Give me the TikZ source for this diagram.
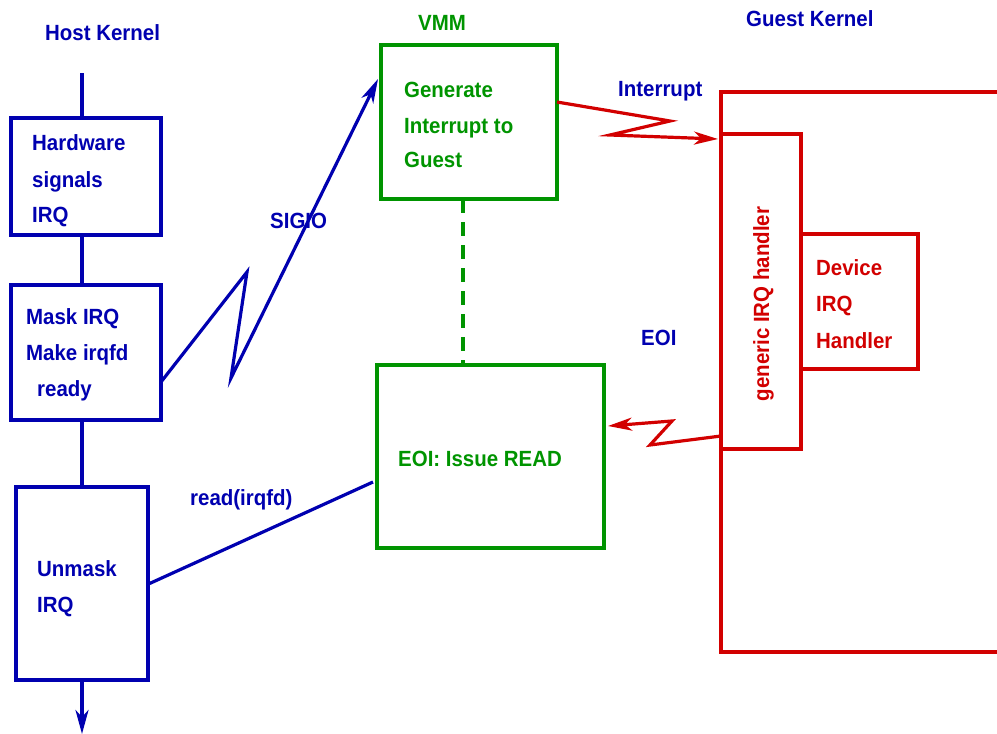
\documentclass[tikz,border=0pt]{standalone}
\usepackage{fontspec}
\setmainfont{Liberation Sans}
\usetikzlibrary{arrows.meta,calc}
\definecolor{hostblue}{RGB}{0,0,176}
\definecolor{vmmgreen}{RGB}{0,148,0}
\definecolor{guestred}{RGB}{210,0,0}
\tikzset{
  box/.style={draw, rectangle, line width=3.2pt, inner sep=0pt},
  wire/.style={line width=3.2pt, line join=miter},
  lbl/.style={anchor=base west, inner sep=0pt, font=\addfontfeatures{FakeStretch=0.93}\fontsize{22}{26}\selectfont\bfseries},
  tip/.style={-{Stealth[length=24pt,width=13pt,inset=7pt]}},
}
\begin{document}
\begin{tikzpicture}[x=1pt,y=-1pt]
\useasboundingbox (0,0) rectangle (997,734);

% ---- host kernel column ----
\begin{scope}[hostblue]
  \node[lbl] (hostk) at (45,40) {Host Kernel};
  \node[box, minimum width=150pt, minimum height=117pt] (hw) at (86,176.5) {};
  \node[box, minimum width=150pt, minimum height=135pt] (mask) at (86,352.5) {};
  \node[box, minimum width=132pt, minimum height=193pt] (unmask) at (82,583.5) {};
  \coordinate (hosttop) at (82,73);
  \coordinate (hostbot) at (82,734);

  \node[lbl] (hw1) at (32,150) {Hardware};
  \node[lbl] (hw2) at (32,187) {signals};
  \node[lbl] (hw3) at (32,222) {IRQ};
  \node[lbl] (mk1) at (26,324) {Mask IRQ};
  \node[lbl] (mk2) at (26,360) {Make irqfd};
  \node[lbl] (mk3) at (37,396) {ready};
  \node[lbl] (um1) at (37,576) {Unmask};
  \node[lbl] (um2) at (37,612) {IRQ};
  \node[lbl] (sigio) at (270,228) {SIGIO};
  \node[lbl] (rd) at (190,505) {read(irqfd)};

  \draw[wire] (hosttop) -- (hosttop |- hw.north);
  \draw[wire] (hosttop |- hw.south) -- (hosttop |- mask.north);
  \draw[wire] (hosttop |- mask.south) -- (hosttop |- unmask.north);
  \draw[wire, tip] (hosttop |- unmask.south) -- (hostbot);
\end{scope}

% ---- VMM column ----
\begin{scope}[vmmgreen]
  \node[lbl] (vmm) at (418,30) {VMM};
  \node[box, minimum width=176pt, minimum height=154pt] (gen) at (469,122) {};
  \node[box, minimum width=227pt, minimum height=183pt] (eoi) at (490.5,456.5) {};
  \node[lbl] (g1) at (404,97) {Generate};
  \node[lbl] (g2) at (404,133) {Interrupt to};
  \node[lbl] (g3) at (404,167) {Guest};
  \node[lbl] (e1) at (398,466) {EOI: Issue READ};
  \draw[wire, dash pattern=on 14pt off 9pt] (463,199) -- (463,365);
\end{scope}

% ---- guest kernel column ----
\begin{scope}[guestred]
  \node[box, minimum width=300pt, minimum height=560pt] (guest) at (871,372) {};
  \node[box, minimum width=80pt, minimum height=315pt] (generic) at (761,291.5) {};
  \node[box, minimum width=117pt, minimum height=135pt] (device) at (859.5,301.5) {};
  \node[lbl, anchor=base, rotate=90] (gl) at (769,304) {generic IRQ handler};
  \node[lbl] (d1) at (816,275) {Device};
  \node[lbl] (d2) at (816,311) {IRQ};
  \node[lbl] (d3) at (816,348) {Handler};
\end{scope}

\node[lbl, hostblue] (gk) at (746,26) {Guest Kernel};
\node[lbl, hostblue] (intl) at (618,96) {Interrupt};
\node[lbl, hostblue] (eoil) at (641,345) {EOI};

% ---- signal paths ----
\coordinate (sigS) at (161,382);
\coordinate (sigA) at (247,272);
\coordinate (sigB) at (231,378);
\coordinate (sigE) at (378,79);
\draw[wire, hostblue, tip] (sigS) -- (sigA) -- (sigB) -- (sigE);

\coordinate (rdE) at (373,482);
\draw[wire, hostblue] (unmask.east) -- (rdE);

\coordinate (intS) at (557,102);
\coordinate (intA) at (670,121);
\coordinate (intB) at (610,135);
\coordinate (intE) at (718,139);
\draw[wire, guestred, tip] (intS) -- (intA) -- (intB) -- (intE);

\coordinate (eoiS) at (721,436);
\coordinate (eoiA) at (650,445);
\coordinate (eoiB) at (672,421);
\coordinate (eoiE) at (608,426);
\draw[wire, guestred, tip] (eoiS) -- (eoiA) -- (eoiB) -- (eoiE);
\end{tikzpicture}
\end{document}
